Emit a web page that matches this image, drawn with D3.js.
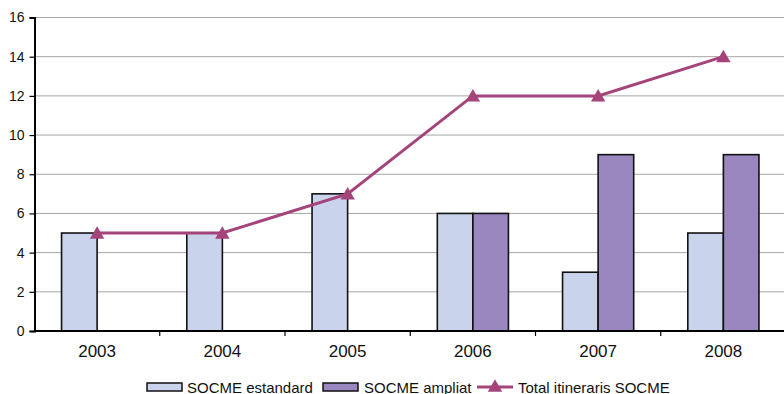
<!DOCTYPE html>
<html>
<head>
<meta charset="utf-8">
<script src="https://cdn.jsdelivr.net/npm/d3@7"></script>
<style>
  html, body { margin: 0; padding: 0; background: #fff; }
  svg { display: block; font-family: "Liberation Sans", Arial, sans-serif; }
</style>
</head>
<body>
<svg id="chart" width="784" height="394"></svg>
<script>
// Chart data
const years = ["2003", "2004", "2005", "2006", "2007", "2008"];
const estandard = [5, 5, 7, 6, 3, 5];
const ampliat = [0, 0, 0, 6, 9, 9];
const total = [5, 5, 7, 12, 12, 14];
const yTicks = [0, 2, 4, 6, 8, 10, 12, 14, 16];
const seriesNames = ["SOCME estandard", "SOCME ampliat", "Total itineraris SOCME"];

const colStd = "#c9d4ec", colAmp = "#9a87bf", colLine = "#a5437b";

const svg = d3.select("#chart");
const plotLeft = 34.5, plotRight = 786, plotTop = 17.5, plotBottom = 331;

const x = d3.scaleBand().domain(years).range([plotLeft, plotRight]);
const y = d3.scaleLinear().domain([0, 16]).range([plotBottom, plotTop]);

// Gridlines
svg.append("g").selectAll("line").data(yTicks.filter(d => d > 0)).join("line")
  .attr("x1", plotLeft).attr("x2", plotRight)
  .attr("y1", d => y(d)).attr("y2", d => y(d))
  .attr("stroke", "#a6a6a6").attr("stroke-width", 1);

// Bars
const bw = x.bandwidth() * 0.284;
const bars = svg.append("g");
years.forEach((yr, i) => {
  const cx = x(yr) + x.bandwidth() / 2;
  const series = [[estandard[i], colStd, cx - bw], [ampliat[i], colAmp, cx]];
  series.forEach(([v, c, x0]) => {
    if (v <= 0) return;
    bars.append("rect")
      .attr("x", x0).attr("y", y(v))
      .attr("width", bw).attr("height", y(0) - y(v))
      .attr("fill", c).attr("stroke", "#111").attr("stroke-width", 1.6);
  });
});

// Y axis
const yAxis = svg.append("g").attr("transform", `translate(${plotLeft},0)`)
  .call(d3.axisLeft(y).tickValues(yTicks).tickSize(5).tickPadding(5));
yAxis.select(".domain").attr("stroke", "#000").attr("stroke-width", 2);
yAxis.selectAll(".tick line").attr("stroke", "#000").attr("stroke-width", 1.2);
yAxis.selectAll("text").attr("font-size", 14).attr("fill", "#111")
  .attr("font-family", "Liberation Sans, Arial, sans-serif");

// X axis: ticks on the band boundaries
const xg = svg.append("g");
xg.append("line").attr("x1", plotLeft).attr("x2", plotRight)
  .attr("y1", plotBottom).attr("y2", plotBottom)
  .attr("stroke", "#000").attr("stroke-width", 2);
xg.selectAll("line.t").data(years.slice(1)).join("line").attr("class", "t")
  .attr("x1", d => x(d)).attr("x2", d => x(d))
  .attr("y1", plotBottom).attr("y2", plotBottom + 5)
  .attr("stroke", "#000").attr("stroke-width", 1.2);
xg.selectAll("text").data(years).join("text")
  .attr("x", d => x(d) + x.bandwidth() / 2)
  .attr("y", 357)
  .attr("text-anchor", "middle")
  .attr("font-size", 17).attr("fill", "#111")
  .text(d => d);

// Total line with triangle markers
const pts = years.map((yr, i) => [x(yr) + x.bandwidth() / 2, y(total[i])]);
svg.append("path")
  .attr("d", d3.line()(pts))
  .attr("fill", "none").attr("stroke", colLine).attr("stroke-width", 3);
const tri = d3.symbol().type(d3.symbolTriangle).size(90);
svg.append("g").selectAll("path").data(pts).join("path")
  .attr("transform", d => `translate(${d[0]},${d[1] + 1.5})`)
  .attr("d", tri()).attr("fill", colLine);

// Legend
const lg = svg.append("g");
const ly = 387;
lg.append("rect").attr("x", 147).attr("y", ly - 4).attr("width", 35).attr("height", 8)
  .attr("fill", colStd).attr("stroke", "#111").attr("stroke-width", 1.5);
lg.append("text").attr("x", 187).attr("y", ly + 5.5).attr("font-size", 15).attr("fill", "#111").text(seriesNames[0]);
lg.append("rect").attr("x", 323).attr("y", ly - 4).attr("width", 35).attr("height", 8)
  .attr("fill", colAmp).attr("stroke", "#111").attr("stroke-width", 1.5);
lg.append("text").attr("x", 364).attr("y", ly + 5.5).attr("font-size", 15).attr("fill", "#111").text(seriesNames[1]);
lg.append("line").attr("x1", 477).attr("x2", 513).attr("y1", ly).attr("y2", ly)
  .attr("stroke", colLine).attr("stroke-width", 3);
lg.append("path").attr("transform", `translate(495,${ly + 0.5})`).attr("d", tri()).attr("fill", colLine);
lg.append("text").attr("x", 518).attr("y", ly + 5.5).attr("font-size", 15).attr("fill", "#111").text(seriesNames[2]);
</script>
</body>
</html>
